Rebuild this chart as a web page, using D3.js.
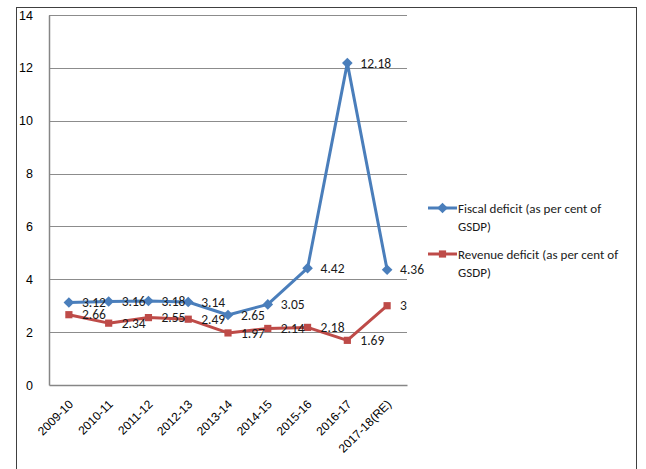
<!DOCTYPE html>
<html>
<head>
<meta charset="utf-8">
<script src="https://cdn.jsdelivr.net/npm/d3@7"></script>
<style>
  html, body { margin: 0; padding: 0; background: #fff; }
  svg { display: block; font-family: Carlito, "Liberation Sans", "DejaVu Sans", sans-serif; }
</style>
</head>
<body>
<svg id="chart" width="646" height="469"></svg>
<script>
// Categories and series (per cent of GSDP)
const years = ["2009-10", "2010-11", "2011-12", "2012-13", "2013-14", "2014-15", "2015-16", "2016-17", "2017-18(RE)"];
const fiscalDeficit = [3.12, 3.16, 3.18, 3.14, 2.65, 3.05, 4.42, 12.18, 4.36];
const revenueDeficit = [2.66, 2.34, 2.55, 2.49, 1.97, 2.14, 2.18, 1.69, 3];
const yTicks = [0, 2, 4, 6, 8, 10, 12, 14];
const seriesNames = ["Fiscal deficit (as per cent of GSDP)", "Revenue deficit (as per cent of GSDP)"];

const svg = d3.select("#chart");
const plot = { left: 49, right: 407, top: 15, bottom: 385 };

// Outer chart frame
svg.append("rect")
  .attr("x", 16.5).attr("y", 7.5)
  .attr("width", 620).attr("height", 480)
  .attr("fill", "none").attr("stroke", "#404040").attr("stroke-width", 1);

const x = d3.scaleBand().domain(years).range([plot.left, plot.right]);
const y = d3.scaleLinear().domain([0, 14]).range([plot.bottom, plot.top]);
const cx = d => x(d) + x.bandwidth() / 2;

// Horizontal gridlines
svg.append("g").selectAll("line").data(yTicks.filter(t => t > 0)).join("line")
  .attr("x1", plot.left).attr("x2", plot.right)
  .attr("y1", d => Math.round(y(d)) + 0.5).attr("y2", d => Math.round(y(d)) + 0.5)
  .attr("stroke", "#8c8c8c").attr("stroke-width", 1);

// Value axis
const yAxis = svg.append("g").attr("transform", `translate(${plot.left},0)`)
  .call(d3.axisLeft(y).tickValues(yTicks).tickSize(0).tickPadding(16).tickFormat(d3.format("d")));
yAxis.select(".domain").attr("stroke", "#868686").attr("stroke-width", 1.5);
yAxis.selectAll("text").attr("font-size", 12.5).attr("fill", "#000");

// Category axis
const xAxis = svg.append("g").attr("transform", `translate(0,${plot.bottom})`)
  .call(d3.axisBottom(x).tickSize(0).tickPadding(0));
xAxis.select(".domain").attr("stroke", "#868686").attr("stroke-width", 1.5);
xAxis.selectAll("text")
  .attr("font-size", 12).attr("fill", "#000")
  .attr("text-anchor", "end")
  .attr("dy", 0)
  .attr("transform", "translate(5,20) rotate(-45)");

const series = [
  { name: seriesNames[0], values: fiscalDeficit, color: "#4A7EBB", marker: "diamond" },
  { name: seriesNames[1], values: revenueDeficit, color: "#BE4B48", marker: "square" }
];

const line = d3.line().x((d, i) => cx(years[i])).y(d => y(d));
const symbolFor = m => m === "diamond"
  ? d3.symbol().type(d3.symbolDiamond2).size(72)
  : d3.symbol().type(d3.symbolSquare2).size(66);

series.forEach(s => {
  const g = svg.append("g");
  g.append("path").datum(s.values)
    .attr("d", line).attr("fill", "none")
    .attr("stroke", s.color).attr("stroke-width", 3).attr("stroke-linejoin", "round");
  g.selectAll("path.mk").data(s.values).join("path").attr("class", "mk")
    .attr("transform", (d, i) => `translate(${cx(years[i])},${y(d)})`)
    .attr("d", symbolFor(s.marker)())
    .attr("fill", s.color);
});

// Data labels to the right of each point
series.forEach(s => {
  svg.append("g").selectAll("text").data(s.values).join("text")
    .attr("x", (d, i) => cx(years[i]) + 13)
    .attr("y", d => y(d))
    .attr("dy", "0.35em")
    .attr("font-size", 13.5).attr("fill", "#1a1a1a")
    .text(d => d);
});

// Legend
const legend = [
  { s: series[0], y: 208, lines: ["Fiscal deficit (as per cent of", "GSDP)"] },
  { s: series[1], y: 254, lines: ["Revenue deficit (as per cent of", "GSDP)"] }
];
legend.forEach(l => {
  const g = svg.append("g");
  g.append("line").attr("x1", 428).attr("x2", 457).attr("y1", l.y).attr("y2", l.y)
    .attr("stroke", l.s.color).attr("stroke-width", 3);
  g.append("path").attr("transform", `translate(442.5,${l.y})`)
    .attr("d", symbolFor(l.s.marker)()).attr("fill", l.s.color);
  const t = g.append("text").attr("x", 458).attr("y", l.y).attr("font-size", 13).attr("fill", "#1a1a1a");
  l.lines.forEach((ln, i) => t.append("tspan").attr("x", 458).attr("dy", i === 0 ? "0.35em" : "1.45em").text(ln));
});
</script>
</body>
</html>
